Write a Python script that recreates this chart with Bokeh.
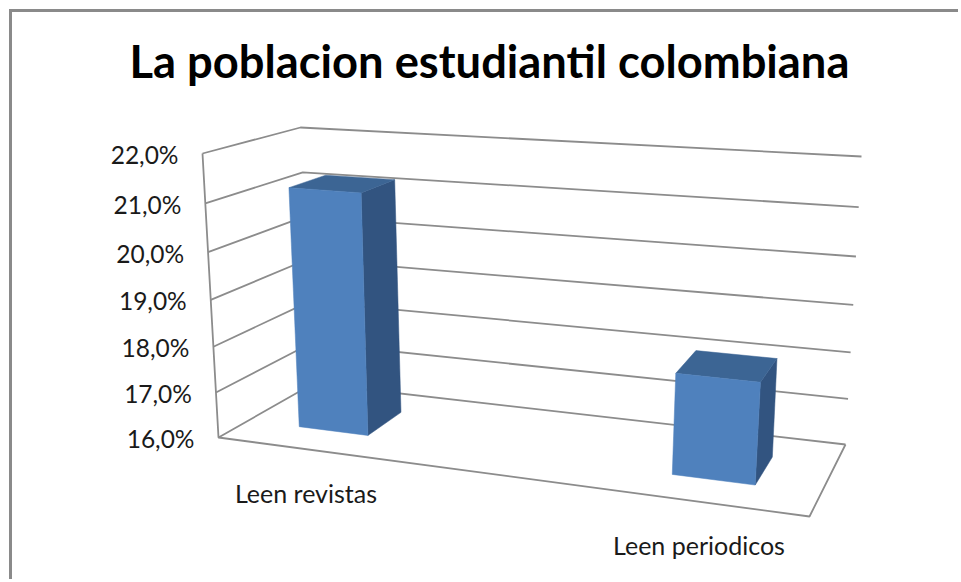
from bokeh.plotting import figure
from bokeh.models import Range1d
from bokeh.core.properties import value
from bokeh.embed import file_html
from bokeh.resources import INLINE

# --- data ---
chart_title = "La poblacion estudiantil colombiana"
categories = ["Leen revistas", "Leen periodicos"]
shares = [21.2, 18.1]
axis_ticks = [16, 17, 18, 19, 20, 21, 22]
tick_labels = ["16,0%", "17,0%", "18,0%", "19,0%", "20,0%", "21,0%", "22,0%"]

# --- 3D box layout, in page pixels ---
V_MIN, V_MAX = axis_ticks[0], axis_ticks[-1]
CORNERS = {  # (left/right, front/back, bottom/top)
    (0, 0, 0): (218, 437), (0, 0, 1): (202, 153),
    (0, 1, 0): (313, 383), (0, 1, 1): (300, 127),
    (1, 0, 0): (809, 516), (1, 0, 1): (830, 196),
    (1, 1, 0): (845, 444), (1, 1, 1): (861, 156),
}
PERSPECTIVE = 0.94
BAR_SPANS = [(0.088, 0.208), (0.740, 0.885)]
BAR_CENTERS = [0.148, 0.813]
BAR_DEPTH = (0.32, 0.72)


def project(u, d, val):
    t = (val - V_MIN) / (V_MAX - V_MIN)
    v = PERSPECTIVE * t / (1 - (1 - PERSPECTIVE) * t)
    x = y = 0.0
    for (a, b, c), (cx, cy) in CORNERS.items():
        w = (u if a else 1 - u) * (d if b else 1 - d) * (v if c else 1 - v)
        x += w * cx
        y += w * cy
    return x, y


def face(points):
    xs, ys = zip(*points)
    return list(xs), list(ys)


GRID = "#8c8c8c"
FRONT, SIDE, TOP = "#4f81bd", "#325480", "#3c6594"

ORIGIN_X, ORIGIN_Y = 12, 12
WIDTH, HEIGHT = 949, 570
TITLE_BOTTOM = 92
p = figure(width=WIDTH, height=HEIGHT, output_backend="svg", toolbar_location=None,
           x_range=Range1d(ORIGIN_X, ORIGIN_X + WIDTH),
           y_range=Range1d(ORIGIN_Y + HEIGHT, TITLE_BOTTOM),
           min_border_left=0, min_border_right=0, min_border_bottom=0,
           min_border_top=TITLE_BOTTOM - ORIGIN_Y)
p.axis.visible = False
p.grid.visible = False
p.outline_line_color = None
p.background_fill_color = "white"
p.border_fill_color = "white"
# outer chart-area border: only top and left are in view in the reference
p.margin = (9, 0, 0, 9)
p.styles = {"border-top": "3px solid #8a8a8a", "border-left": "3px solid #8a8a8a"}

p.title.text = chart_title
p.title.text_font = "Lato"
p.title.text_font_style = "bold"
p.title.text_font_size = "45.3px"
p.title.text_color = "black"
p.title.align = "left"
p.title.offset = 117
p.title.standoff = 9

# gridlines on the left and back walls
for tick in axis_ticks:
    a = project(0, 0, tick)
    b = project(0, 1, tick)
    c = project(1, 1, tick)
    xs, ys = face([a, b, c])
    p.line(xs, ys, line_color=GRID, line_width=1.8)

# left wall front edge and floor front / right edge
xs, ys = face([project(0, 0, V_MAX), project(0, 0, V_MIN),
               project(1, 0, V_MIN), project(1, 1, V_MIN)])
p.line(xs, ys, line_color=GRID, line_width=1.8)

# bars
d0, d1 = BAR_DEPTH
for (u0, u1), val in zip(BAR_SPANS, shares):
    xs, ys = face([project(u1, d0, V_MIN), project(u1, d1, V_MIN),
                   project(u1, d1, val), project(u1, d0, val)])
    p.patch(xs, ys, fill_color=SIDE, line_color=SIDE, line_width=0.5)
    xs, ys = face([project(u0, d0, val), project(u0, d1, val),
                   project(u1, d1, val), project(u1, d0, val)])
    p.patch(xs, ys, fill_color=TOP, line_color=TOP, line_width=0.5)
    xs, ys = face([project(u0, d0, V_MIN), project(u1, d0, V_MIN),
                   project(u1, d0, val), project(u0, d0, val)])
    p.patch(xs, ys, fill_color=FRONT, line_color=FRONT, line_width=0.5)

# value-axis labels
tick_pts = [project(0, 0, t) for t in axis_ticks]
p.text([q[0] for q in tick_pts], [q[1] for q in tick_pts], text=tick_labels,
       text_font=value("Lato"), text_font_size="24.5px", text_color="#1a1a1a",
       text_align="right", text_baseline="middle", x_offset=-24, y_offset=1)

# category labels
cat_pts = [project(c, 0, V_MIN) for c in BAR_CENTERS]
p.text([q[0] for q in cat_pts], [q[1] for q in cat_pts], text=categories,
       text_font=value("Lato"), text_font_size="25px", text_color="#1a1a1a",
       text_align="center", text_baseline="middle", y_offset=43.5)

open("out.html", "w").write(file_html(p, INLINE))
